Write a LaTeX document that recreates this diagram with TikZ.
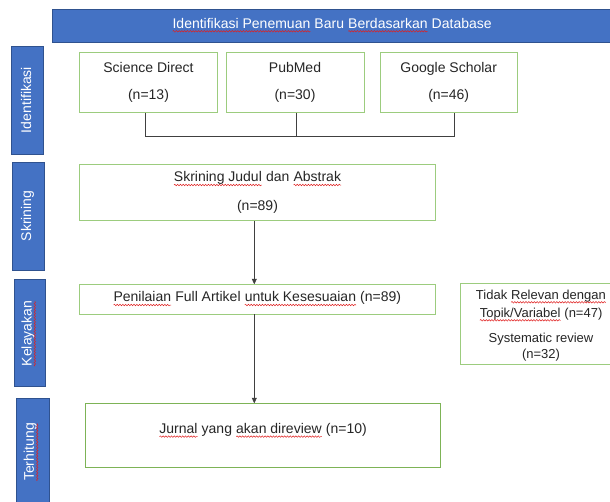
\documentclass[tikz,border=0pt]{standalone}
\usepackage{fontspec}
\setmainfont{Liberation Sans}
\usetikzlibrary{arrows.meta,decorations.pathmorphing}
\definecolor{wblue}{HTML}{4472C4}
\definecolor{wblueedge}{HTML}{2F528F}
\definecolor{wgreen}{HTML}{9CCC7E}
\definecolor{wgreendk}{HTML}{7DB356}
\definecolor{wred}{HTML}{E02020}
\newcommand{\rwave}[1]{\tikz[baseline=(w.base)]{\node[inner sep=0pt,outer sep=0pt] (w) {#1};
  \draw[wred,line width=0.5pt,decorate,decoration={snake,amplitude=0.75pt,segment length=2.8pt}]
   ([yshift=-3.3pt]w.base west) -- ([yshift=-3.3pt]w.base east);}}
\tikzset{
  banner/.style={draw=wblueedge,fill=wblue,line width=0.8pt},
  sidebox/.style={draw=wblueedge,fill=wblue,line width=0.8pt},
  sidelabel/.style={text=white,rotate=90,font=\fontsize{14}{16}\selectfont},
  gbox/.style={draw=wgreen,fill=white,line width=0.9pt},
  txt/.style={font=\fontsize{14}{16}\selectfont,text=black!85,inner sep=0pt,anchor=base},
  stxt/.style={font=\fontsize{13}{15}\selectfont,text=black!85,inner sep=0pt,anchor=base},
  conn/.style={draw=black!75,line width=0.7pt},
  arr/.style={conn,-{Triangle[length=5.5pt,width=5pt]}}
}
\begin{document}
\begin{tikzpicture}[x=1pt,y=-1pt]
\useasboundingbox (0,0) rectangle (610,501);
% banner
\draw[banner] (52,9) rectangle (620,42.7);
\node[txt,text=white] (ban) at (332,28) {\rwave{Identifikasi Penemuan} Baru \rwave{Berdasarkan} Database};
% side boxes
\draw[sidebox] (11,46) rectangle (43,154);
\node[sidelabel] (s1) at (26,100) {Identifikasi};
\draw[sidebox] (12.5,162.7) rectangle (44,270);
\node[sidelabel] (s2) at (27.5,216) {Skrining};
\draw[sidebox] (14,279.3) rectangle (45.7,386.7);
\node[sidelabel] (s3) at (28.6,333.5) {\rwave{Kelayakan}};
\draw[sidebox] (16.7,398.3) rectangle (49,512);
\node[sidelabel] (s4) at (31,452) {\rwave{Terhitung}};
% identification boxes
\draw[gbox] (79.3,52.3) rectangle (217.7,112.7);
\node[txt] (sd) at (148.5,72) {Science Direct};
\node[txt] (sdn) at (148.5,99.3) {(n=13)};
\draw[gbox] (226,52.3) rectangle (364,112.7);
\node[txt] (pm) at (295,72) {PubMed};
\node[txt] (pmn) at (295,99.3) {(n=30)};
\draw[gbox] (380,52.3) rectangle (517.3,112.7);
\node[txt] (gs) at (448.7,72) {Google Scholar};
\node[txt] (gsn) at (448.7,99.3) {(n=46)};
\coordinate (b1) at (145.7,112.7);
\coordinate (b2) at (296,112.7);
\coordinate (b3) at (454,112.7);
\coordinate (j1) at (145.7,136.7);
\coordinate (j2) at (296,136.7);
\coordinate (j3) at (454,136.7);
\draw[conn] (b1) -- (j1) -- (j3) -- (b3);
\draw[conn] (b2) -- (j2);
% screening
\draw[gbox] (79.3,164.3) rectangle (435,220.3);
\node[txt] (sk) at (257.5,181.7) {\rwave{Skrining Judul} dan \rwave{Abstrak}};
\node[txt] (skn) at (257.5,210.5) {(n=89)};
\coordinate (a1) at (254.3,221);
\coordinate (a2) at (254.3,284.3);
\draw[arr] (a1) -- (a2);
% eligibility
\draw[gbox] (79.3,284.3) rectangle (435,314.3);
\node[txt] (pn) at (257.2,301.7) {\rwave{Penilaian} Full Artikel \rwave{untuk Kesesuaian} (n=89)};
\coordinate (a3) at (254.3,314.3);
\coordinate (a4) at (254.3,403.3);
\draw[arr] (a3) -- (a4);
\draw[gbox] (460.7,283.3) rectangle (625,364.3);
\node[stxt] (tr1) at (541,299) {Tidak \rwave{Relevan dengan}};
\node[stxt] (tr2) at (541,317) {\rwave{Topik/Variabel} (n=47)};
\node[stxt] (tr3) at (541,342) {Systematic review};
\node[stxt] (tr4) at (541,358.5) {(n=32)};
% included
\draw[gbox,draw=wgreendk] (85.3,403.3) rectangle (440.7,467.3);
\node[txt] (jr) at (263,433.3) {\rwave{Jurnal} yang \rwave{akan direview} (n=10)};
\end{tikzpicture}
\end{document}
